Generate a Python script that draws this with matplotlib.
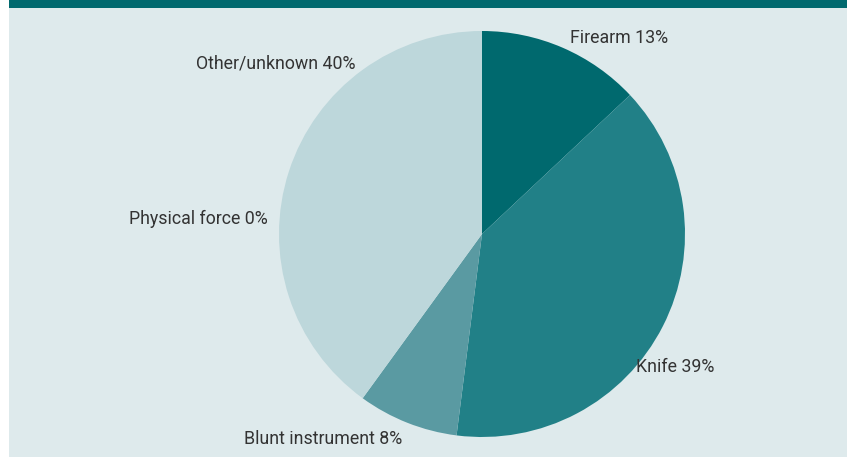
import matplotlib.pyplot as plt
from matplotlib.patches import Rectangle

# data
categories = ["Firearm", "Knife", "Blunt instrument", "Physical force", "Other/unknown"]
shares = [13, 39, 8, 0, 40]
colours = ["#00696e", "#218087", "#5a9aa2", "#8fbcc1", "#bdd7db"]

# label anchors in pie units (radius = 1) and alignment
label_pos = [(0.433, 0.965, "left"), (0.759, -0.655, "left"), (-1.172, -1.01, "left"),
             (-1.054, 0.073, "right"), (-0.621, 0.842, "right")]

BG = "#deeaec"
TEXT = "#333333"

fig = plt.figure(figsize=(8.47, 4.57), dpi=100)
fig.patch.set_facecolor("white")
# panel background and top band
fig.patches.append(Rectangle((9 / 847, 0), 1, 1, transform=fig.transFigure,
                             facecolor=BG, edgecolor="none", zorder=-2))
fig.patches.append(Rectangle((9 / 847, 1 - 8 / 457), 1, 8 / 457, transform=fig.transFigure,
                             facecolor="#00696e", edgecolor="none", zorder=-1))

cx, cy, r = 482, 234, 203
ax = fig.add_axes([(cx - r) / 847, (457 - cy - r) / 457, 2 * r / 847, 2 * r / 457])
ax.set_zorder(5)
ax.set_facecolor("none")
ax.pie(shares, colors=colours, startangle=90, counterclock=False, radius=1,
       wedgeprops=dict(linewidth=0))
ax.set_xlim(-1, 1)
ax.set_ylim(-1, 1)
ax.set_aspect("equal")
ax.axis("off")

for name, val, (x, y, ha) in zip(categories, shares, label_pos):
    ax.text(x, y, f"{name} {val}%", ha=ha, va="center", fontsize=12.8, color=TEXT,
            family=["Roboto", "DejaVu Sans"], clip_on=False)

fig.savefig("out.png", dpi=100, facecolor=fig.get_facecolor())
